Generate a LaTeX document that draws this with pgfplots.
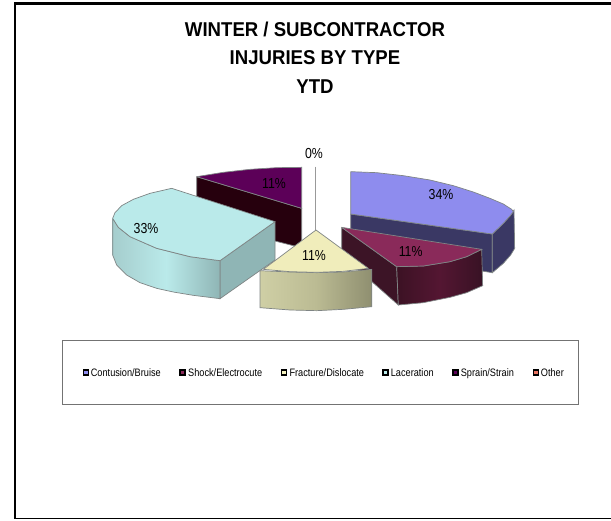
\documentclass[border=0pt]{standalone}
\usepackage{fontspec}
\setmainfont{Liberation Sans}[FakeStretch=0.85]
\newfontfamily\titlefont{Liberation Sans}[FakeStretch=0.93]
\usepackage{pgfplots}
\pgfplotsset{compat=1.18}
\definecolor{edge}{HTML}{7F8585}
\definecolor{cblue}{RGB}{142,140,238}
\definecolor{cmaroon}{RGB}{138,42,90}
\definecolor{cyellow}{RGB}{245,242,190}
\definecolor{ccyan}{RGB}{186,234,234}
\definecolor{cpurple}{RGB}{92,0,88}
\definecolor{cother}{RGB}{232,114,95}
\begin{document}
\begin{tikzpicture}
\begin{axis}[scale only axis,width=611pt,height=520pt,
 xmin=-270,xmax=1563,ymin=-420,ymax=1140,y dir=reverse,hide axis]
% page background fixes the picture's extent
\addplot[fill=white,draw=none] coordinates {(-270,-420)(1563,-420)(1563,1140)(-270,1140)(-270,-420)};
% frame
\addplot[black,line width=2.6pt] coordinates {(-225,1136)(-225,-410)(1563,-410)};
\addplot[black,line width=1pt] coordinates {(-225,1136)(1563,1136)};
% legend box
\addplot[draw=gray!90!black,line width=0.6pt] coordinates {(-82,600)(1464,600)(1464,792)(-82,792)(-82,600)};
% 0 percent leader
\addplot[gray!80,line width=1.2pt] coordinates {(677,80)(677,270)};
% purple
\addplot[fill=black!80!purple,draw=edge,line width=0.7pt] coordinates {(320,110)(635,205)(635,323)(610,317)(555,303)(320,230)(320,110)};
\addplot[fill=cpurple,draw=edge,line width=0.7pt] coordinates {(320,110)(635,205)(635,82)(560,83)(480,88)(400,97)(320,110)};
% blue
\addplot[fill={rgb,255:red,58;green,56;blue,100},draw=edge,line width=0.7pt] coordinates {(782,222)(1207,282)(1207,398)(782,330)(782,222)};
\addplot[fill={rgb,255:red,58;green,56;blue,100},draw=edge,line width=0.7pt] coordinates {(1207,282)(1240,250)(1262,225)(1272,210)(1274,325)(1262,345)(1240,370)(1207,398)(1207,282)};
\addplot[fill=cblue,draw=edge,line width=0.7pt] coordinates {(782,95)(860,98)(940,107)(1020,120)(1090,137)(1150,156)(1200,175)(1240,192)(1265,208)(1270,215)(1260,228)(1240,250)(1207,282)(782,222)(782,95)};
% cyan
\addplot[fill={rgb,255:red,143;green,181;blue,181},draw=edge,line width=0.7pt] coordinates {(555,245)(390,362)(390,476)(555,360)(555,245)};
\addplot[left color={rgb,255:red,165;green,205;blue,205},right color={rgb,255:red,143;green,181;blue,181},middle color=ccyan,draw=edge,line width=0.7pt] coordinates {(68,235)(68,345)(80,375)(110,405)(150,428)(200,445)(250,456)(310,466)(390,476)(390,362)(300,350)(200,325)(120,290)(85,262)(68,235)};
\addplot[fill=ccyan,draw=edge,line width=0.7pt] coordinates {(245,145)(555,245)(390,362)(300,350)(200,325)(120,290)(85,262)(68,235)(75,218)(95,197)(130,178)(180,160)(245,145)};
% maroon
\addplot[fill={rgb,255:red,60;green,20;blue,38},draw=edge,line width=0.7pt] coordinates {(755,262)(920,380)(925,495)(755,345)(755,262)};
\addplot[left color={rgb,255:red,60;green,18;blue,36},right color={rgb,255:red,56;green,18;blue,36},middle color={rgb,255:red,84;green,22;blue,50},draw=edge,line width=0.7pt] coordinates {(920,380)(1000,378)(1080,365)(1130,350)(1175,328)(1178,437)(1130,458)(1080,472)(1000,488)(925,495)(920,380)};
\addplot[fill=cmaroon,draw=edge,line width=0.7pt] coordinates {(755,262)(1175,328)(1130,350)(1080,365)(1000,378)(920,380)(755,262)};
% yellow
\addplot[left color={rgb,255:red,207;green,207;blue,165},right color={rgb,255:red,143;green,143;blue,112},middle color={rgb,255:red,187;green,187;blue,147},draw=edge,line width=0.7pt] coordinates {(510,392)(600,396)(680,398)(760,396)(845,388)(845,500)(760,508)(680,512)(600,510)(510,503)(510,392)};
\addplot[fill={rgb,255:red,240;green,237;blue,187},draw=edge,line width=0.7pt] coordinates {(678,270)(835,385)(760,394)(680,397)(600,395)(520,388)(678,270)};
% slice labels
\node[font=\fontsize{14.5}{14.5}\selectfont] at (axis cs:672,40) {0\%};
\node[font=\fontsize{14.5}{14.5}\selectfont] at (axis cs:1053,165) {34\%};
\node[font=\fontsize{14.5}{14.5}\selectfont] at (axis cs:962,335) {11\%};
\node[font=\fontsize{14.5}{14.5}\selectfont] at (axis cs:672,348) {11\%};
\node[font=\fontsize{14.5}{14.5}\selectfont] at (axis cs:168,265) {33\%};
\node[font=\fontsize{14.5}{14.5}\selectfont] at (axis cs:552,130) {11\%};
% title
\node[font=\fontsize{20}{20}\selectfont\titlefont\bfseries] at (axis cs:675,-333) {WINTER / SUBCONTRACTOR};
\node[font=\fontsize{20}{20}\selectfont\titlefont\bfseries] at (axis cs:675,-246) {INJURIES BY TYPE};
\node[font=\fontsize{20}{20}\selectfont\titlefont\bfseries] at (axis cs:675,-159) {YTD};
% legend
\pgfplotsset{lm/.style={only marks,mark=square*,mark size=2.5pt,mark options={fill=#1,draw=black,line width=1.4pt}}}
\addplot[lm=cblue] coordinates {(-12,697)};
\addplot[lm=cmaroon] coordinates {(278,697)};
\addplot[lm=cyellow] coordinates {(582,697)};
\addplot[lm=ccyan] coordinates {(886,697)};
\addplot[lm=cpurple] coordinates {(1096,697)};
\addplot[lm=cother] coordinates {(1338,697)};
\tikzset{lg/.style={anchor=base west,inner sep=0pt,font=\fontsize{10.8}{11}\selectfont}}
\node[lg] at (axis cs:2,709) {Contusion/Bruise};
\node[lg] at (axis cs:294,709) {Shock/Electrocute};
\node[lg] at (axis cs:598,709) {Fracture/Dislocate};
\node[lg] at (axis cs:902,709) {Laceration};
\node[lg] at (axis cs:1112,709) {Sprain/Strain};
\node[lg] at (axis cs:1352,709) {Other};
\end{axis}
\end{tikzpicture}
\end{document}
